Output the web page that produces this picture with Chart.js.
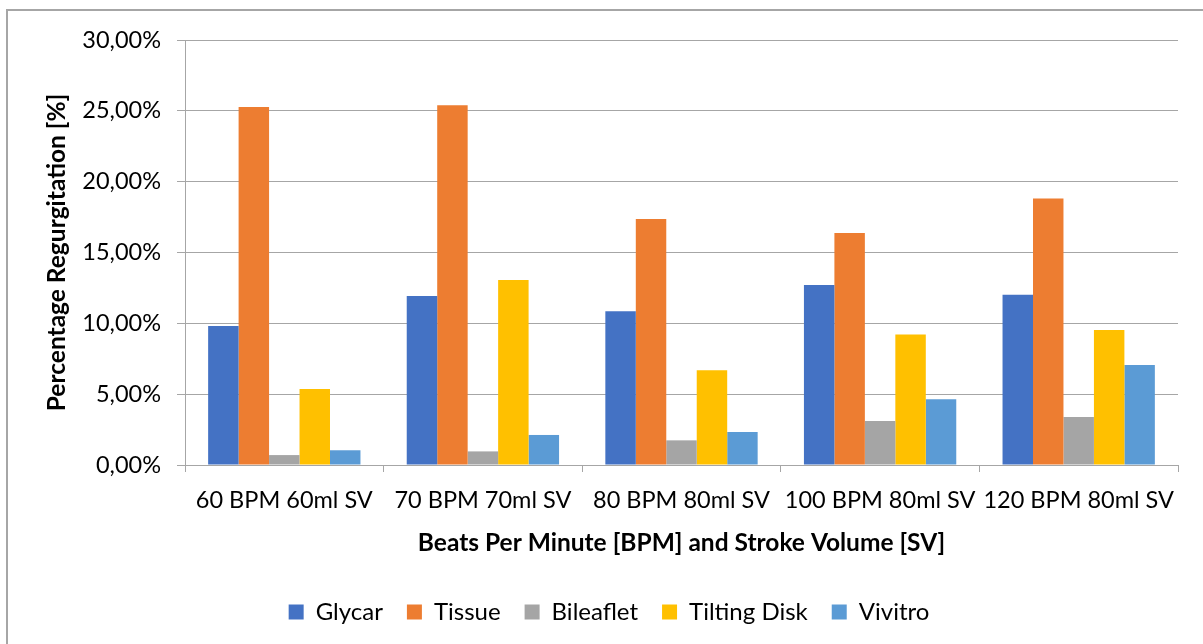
<!DOCTYPE html>
<html>
<head>
<meta charset="utf-8">
<script src="https://cdn.jsdelivr.net/npm/chart.js@4/dist/chart.umd.min.js"></script>
<style>
  html, body { margin: 0; padding: 0; background: #fff; overflow: hidden; }
  #frame { position: absolute; left: 6px; top: 9px; width: 1260px; height: 700px; border: 2px solid #a6a6a6; box-sizing: border-box; }
  #wrap { position: absolute; left: 0; top: 0; width: 1203px; height: 644px; }
</style>
</head>
<body>
<div id="frame"></div>
<div id="wrap"><canvas id="chart" width="1203" height="644"></canvas></div>
<script>
// Test conditions: heart rate and stroke volume
const categories = ['60 BPM 60ml SV', '70 BPM 70ml SV', '80 BPM 80ml SV', '100 BPM 80ml SV', '120 BPM 80ml SV'];

// Regurgitation in percent for each valve type
const glycar      = [9.81, 11.93, 10.85, 12.70, 12.02];
const tissue      = [25.27, 25.40, 17.36, 16.37, 18.82];
const bileaflet   = [0.70, 0.96, 1.74, 3.10, 3.39];
const tiltingDisk = [5.36, 13.06, 6.68, 9.22, 9.53];
const vivitro     = [1.04, 2.12, 2.33, 4.64, 7.06];

const seriesNames = ['Glycar', 'Tissue', 'Bileaflet', 'Tilting Disk', 'Vivitro'];
const seriesColors = ['#4472C4', '#ED7D31', '#A5A5A5', '#FFC000', '#5B9BD5'];
const seriesValues = [glycar, tissue, bileaflet, tiltingDisk, vivitro];

const FONT = 'Lato, Calibri, "Open Sans", sans-serif';
const GRID = '#a6a6a6';

const data = {
  labels: categories,
  datasets: seriesNames.map((name, i) => ({
    label: name,
    data: seriesValues[i],
    backgroundColor: seriesColors[i],
    borderWidth: 0,
    categoryPercentage: 0.767,
    barPercentage: 1.0
  }))
};

new Chart(document.getElementById('chart'), {
  type: 'bar',
  data,
  options: {
    responsive: false,
    animation: false,
    devicePixelRatio: 1,
    layout: { padding: { left: 40, top: 40, right: 25, bottom: 10 } },
    plugins: {
      tooltip: { enabled: false },
      legend: {
        position: 'bottom',
        labels: {
          boxWidth: 15,
          boxHeight: 15,
          padding: 24,
          color: '#000',
          font: { family: FONT, size: 24 }
        }
      }
    },
    scales: {
      x: {
        grid: { display: true, drawOnChartArea: false, drawTicks: true, tickLength: 7, color: GRID, offset: true },
        border: { display: true, color: GRID, width: 1 },
        ticks: { color: '#000', padding: 14, font: { family: FONT, size: 23.5 }, maxRotation: 0 },
        title: {
          display: true,
          text: 'Beats Per Minute [BPM] and Stroke Volume [SV]',
          color: '#000',
          font: { family: FONT, size: 24.5, weight: 'bold' },
          padding: { top: 4, bottom: 18 }
        },
        afterFit: (scale) => { scale.height = 111; }
      },
      y: {
        min: 0,
        max: 30,
        grid: { color: GRID, lineWidth: 1, tickLength: 8, drawTicks: true },
        border: { display: true, color: GRID, width: 1 },
        ticks: {
          stepSize: 5,
          color: '#000',
          padding: 16,
          font: { family: FONT, size: 23.5 },
          callback: (v) => v.toFixed(2).replace('.', ',') + '%'
        },
        title: {
          display: true,
          text: 'Percentage Regurgitation [%]',
          color: '#000',
          font: { family: FONT, size: 24.5, weight: 'bold' },
          padding: { top: 2, bottom: 4 }
        },
        afterFit: (scale) => { scale.width = 145; }
      }
    }
  }
});
</script>
</body>
</html>
